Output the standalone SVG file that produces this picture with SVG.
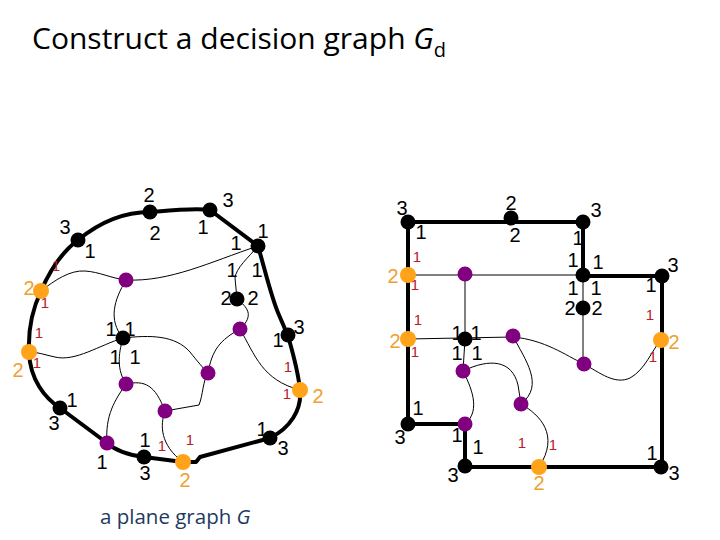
<svg xmlns="http://www.w3.org/2000/svg" width="720" height="540" viewBox="0 0 720 540">
<style>
.thick{fill:none;stroke:#000;stroke-width:4;stroke-linejoin:round}
.thin{fill:none;stroke:#000;stroke-width:1}
.b{fill:#000}
.p{fill:#800080}
.o{fill:#ffa31a}
.t{font-family:"Liberation Sans Narrow","Liberation Sans",sans-serif;font-size:20px;text-anchor:middle}
.lb{fill:#000}
.lo{fill:#f0a030}
.lr{font-family:"Liberation Sans Narrow","Liberation Sans",sans-serif;font-size:15px;text-anchor:middle;fill:#b5202a}
.title{font-family:"Open Sans","Liberation Sans",sans-serif;font-size:30px;fill:#000}
.cap{font-family:"Open Sans","Liberation Sans",sans-serif;font-size:20.5px;fill:#1f3a5f}
</style>
<rect width="720" height="540" fill="#fff"/>
<text class="title" x="32" y="49">Construct a decision graph <tspan font-style="italic">G</tspan><tspan font-size="20" dy="8">d</tspan></text>
<text class="cap" x="100" y="524">a plane graph <tspan font-style="italic">G</tspan></text>

<g id="connectors">
<!-- left graph -->
<path class="thick" d="M60,408 C45,398 30,380 29,352 C28,330 32,310 41,291 C50,270 62,252 78,240 C100,222 125,212 150,212 C175,210 195,208 210,210 L258,246 C265,270 272,300 279,315 L288,336 C292,350 298,370 300,390 C302,410 290,428 270,438 L200,457 L196,462 L183,462 L144,457 C128,455 115,450 107,443 Z"/>
<path class="thin" d="M41,291 C55,280 70,270 85,271 C100,272 110,278 126,280"/>
<path class="thin" d="M126,280 C170,282 210,262 258,246"/>
<path class="thin" d="M126,280 C114,300 108,320 123,338"/>
<path class="thin" d="M258,246 C248,258 236,268 235,278 L237,299"/>
<path class="thin" d="M237,299 C247,307 255,315 240,329"/>
<path class="thin" d="M123,338 C100,345 75,362 55,357 C45,355 38,352 29,352"/>
<path class="thin" d="M123,338 C150,335 175,335 190,352 C198,362 203,368 208,373"/>
<path class="thin" d="M123,338 C118,355 117,370 126,384"/>
<path class="thin" d="M126,384 C145,380 155,385 165,411"/>
<path class="thin" d="M126,384 C115,400 105,415 107,443"/>
<path class="thin" d="M165,411 L199,405 C203,395 203,380 208,373"/>
<path class="thin" d="M208,373 C212,350 220,340 240,329"/>
<path class="thin" d="M240,329 C255,355 262,380 300,390"/>
<path class="thin" d="M165,411 C160,425 160,445 183,462"/>
<!-- right graph -->
<path class="thick" d="M408,222 L583,222 L583,276 L662,276 L662,467 L465,467 L465,424 L408,424 Z"/>
<path class="thin" d="M408,275 L583,275"/>
<path class="thin" d="M465,274 L465,339"/>
<path class="thin" d="M583,275 L583,364"/>
<path class="thin" d="M408,339 L513,337"/>
<path class="thin" d="M513,337 C545,340 565,355 584,364 C600,373 615,385 630,378 C645,370 652,350 661,340"/>
<path class="thin" d="M465,339 L463,371"/>
<path class="thin" d="M463,371 C470,385 482,410 465,424"/>
<path class="thin" d="M463,371 C490,358 512,360 518,385 L521,404"/>
<path class="thin" d="M513,336 C525,360 545,385 521,404"/>
<path class="thin" d="M521,404 C540,415 560,435 539,467"/>
</g>

<!-- left graph nodes -->
<g id="L1"><circle class="b" cx="78" cy="240" r="7.5"/><text class="t lb" x="65" y="234">3</text><text class="t lb" x="90" y="258">1</text><text class="lr" x="56" y="271">1</text></g>
<g id="L2"><circle class="b" cx="150" cy="212" r="7.5"/><text class="t lb" x="149" y="202">2</text><text class="t lb" x="155" y="240">2</text></g>
<g id="L3"><circle class="b" cx="210" cy="210" r="7.5"/><text class="t lb" x="228" y="207">3</text><text class="t lb" x="203" y="234">1</text></g>
<g id="L4"><circle class="b" cx="258" cy="246" r="7.5"/><text class="t lb" x="263" y="238">1</text><text class="t lb" x="236" y="250">1</text><text class="t lb" x="232" y="277">1</text><text class="t lb" x="257" y="277">1</text></g>
<g id="L5"><circle class="b" cx="237" cy="299" r="7.5"/><text class="t lb" x="226" y="305">2</text><text class="t lb" x="253" y="305">2</text></g>
<g id="L6"><circle class="b" cx="288" cy="335" r="7.5"/><text class="t lb" x="299" y="334">3</text><text class="t lb" x="278" y="347">1</text><text class="lr" x="288" y="372">1</text></g>
<g id="L7"><circle class="o" cx="300" cy="390" r="8"/><text class="t lo" x="318" y="403">2</text><text class="lr" x="287" y="399">1</text></g>
<g id="L8"><circle class="b" cx="270" cy="438" r="7.5"/><text class="t lb" x="262" y="436">1</text><text class="t lb" x="283" y="455">3</text></g>
<g id="L9"><circle class="o" cx="183" cy="462" r="8"/><text class="t lo" x="185" y="487">2</text><text class="lr" x="190" y="445">1</text></g>
<g id="L10"><circle class="b" cx="144" cy="457" r="7.5"/><text class="t lb" x="145" y="447">1</text><text class="t lb" x="145" y="480">3</text><text class="lr" x="162" y="451">1</text></g>
<g id="L11"><circle class="p" cx="107" cy="443" r="7.5"/><text class="t lb" x="102" y="469">1</text></g>
<g id="L12"><circle class="b" cx="60" cy="408" r="7.5"/><text class="t lb" x="72" y="407">1</text><text class="t lb" x="54" y="430">3</text></g>
<g id="L13"><circle class="o" cx="29" cy="352" r="8"/><text class="t lo" x="18" y="377">2</text><text class="lr" x="39" y="338">1</text><text class="lr" x="37" y="368">1</text></g>
<g id="L14"><circle class="o" cx="41" cy="291" r="8"/><text class="t lo" x="29" y="295">2</text><text class="lr" x="45" y="308">1</text></g>
<g id="L15"><circle class="p" cx="126" cy="280" r="7.5"/></g>
<g id="L16"><circle class="b" cx="123" cy="338" r="7.5"/><text class="t lb" x="111" y="336">1</text><text class="t lb" x="130" y="336">1</text><text class="t lb" x="115" y="364">1</text><text class="t lb" x="135" y="364">1</text></g>
<g id="L17"><circle class="p" cx="126" cy="384" r="7.5"/></g>
<g id="L18"><circle class="p" cx="165" cy="411" r="7.5"/></g>
<g id="L19"><circle class="p" cx="208" cy="373" r="7.5"/></g>
<g id="L20"><circle class="p" cx="240" cy="329" r="7.5"/></g>

<!-- right graph nodes -->
<g id="R1"><circle class="b" cx="408" cy="222" r="7.5"/><text class="t lb" x="402" y="215">3</text><text class="t lb" x="421" y="239">1</text><text class="lr" x="417" y="262">1</text></g>
<g id="R2"><circle class="b" cx="511" cy="218" r="7.5"/><text class="t lb" x="511" y="210">2</text><text class="t lb" x="515" y="242">2</text></g>
<g id="R3"><circle class="b" cx="583" cy="222" r="7.5"/><text class="t lb" x="596" y="217">3</text><text class="t lb" x="578" y="245">1</text></g>
<g id="R4"><circle class="b" cx="583" cy="275" r="7.5"/><text class="t lb" x="573" y="267">1</text><text class="t lb" x="598" y="269">1</text><text class="t lb" x="573" y="295">1</text><text class="t lb" x="596" y="295">1</text></g>
<g id="R5"><circle class="b" cx="583" cy="308" r="7.5"/><text class="t lb" x="570" y="315">2</text><text class="t lb" x="597" y="315">2</text></g>
<g id="R6"><circle class="b" cx="662" cy="276" r="7.5"/><text class="t lb" x="673" y="272">3</text><text class="t lb" x="651" y="292">1</text><text class="lr" x="650" y="320">1</text></g>
<g id="R7"><circle class="o" cx="661" cy="340" r="8"/><text class="t lo" x="674" y="349">2</text><text class="lr" x="653" y="362">1</text></g>
<g id="R8"><circle class="b" cx="661" cy="467" r="7.5"/><text class="t lb" x="652" y="460">1</text><text class="t lb" x="674" y="480">3</text></g>
<g id="R9"><circle class="o" cx="539" cy="467" r="8"/><text class="t lo" x="539" y="490">2</text><text class="lr" x="522" y="448">1</text><text class="lr" x="553" y="450">1</text></g>
<g id="R10"><circle class="b" cx="465" cy="466" r="7.5"/><text class="t lb" x="478" y="454">1</text><text class="t lb" x="453" y="482">3</text></g>
<g id="R11"><circle class="p" cx="465" cy="424" r="7.5"/><text class="t lb" x="457" y="442">1</text></g>
<g id="R12"><circle class="b" cx="408" cy="424" r="7.5"/><text class="t lb" x="418" y="415">1</text><text class="t lb" x="400" y="444">3</text></g>
<g id="R13"><circle class="o" cx="408" cy="339" r="8"/><text class="t lo" x="395" y="348">2</text><text class="lr" x="418" y="325">1</text><text class="lr" x="415" y="357">1</text></g>
<g id="R14"><circle class="o" cx="408" cy="275" r="8"/><text class="t lo" x="393" y="283">2</text><text class="lr" x="415" y="290">1</text></g>
<g id="R15"><circle class="p" cx="465" cy="274" r="7.5"/></g>
<g id="R16"><circle class="b" cx="465" cy="339" r="7.5"/><text class="t lb" x="457" y="340">1</text><text class="t lb" x="476" y="340">1</text><text class="t lb" x="457" y="360">1</text><text class="t lb" x="477" y="360">1</text></g>
<g id="R17"><circle class="p" cx="513" cy="336" r="7.5"/></g>
<g id="R18"><circle class="p" cx="463" cy="371" r="7.5"/></g>
<g id="R19"><circle class="p" cx="521" cy="404" r="7.5"/></g>
<g id="R20"><circle class="p" cx="584" cy="364" r="7.5"/></g>
</svg>
